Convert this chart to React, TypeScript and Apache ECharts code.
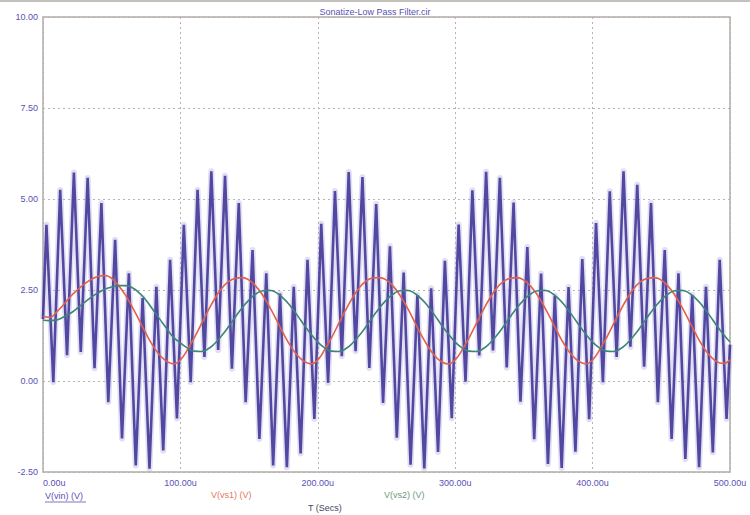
import React, { useEffect, useRef } from "react";
import * as echarts from "echarts";

// ---- data ----
const chartTitle = "Sonatize-Low Pass Filter.cir";
const xMin = 0;
const xMax = 500; // microseconds
const xStep = 100;
const yMin = -2.5;
const yMax = 10;
const yStep = 2.5;

// V(vs1) and V(vs2): samples every 5 us from 0 to 500 us
const sampleStepUs = 5;
const vs1Values = [
  1.77, 1.75, 1.90, 2.10, 2.32, 2.50, 2.66, 2.79, 2.87, 2.90, 2.82, 2.62, 2.36, 2.03, 1.67, 1.30, 0.97, 0.71, 0.54, 0.47,
  0.58, 0.85, 1.18, 1.55, 1.92, 2.26, 2.54, 2.73, 2.82, 2.84, 2.77, 2.60, 2.35, 2.03, 1.67, 1.30, 0.97, 0.71, 0.54, 0.47,
  0.58, 0.86, 1.19, 1.56, 1.93, 2.27, 2.55, 2.74, 2.83, 2.84, 2.77, 2.60, 2.34, 2.02, 1.66, 1.29, 0.96, 0.70, 0.53, 0.47,
  0.58, 0.85, 1.18, 1.55, 1.92, 2.26, 2.54, 2.73, 2.82, 2.84, 2.77, 2.60, 2.35, 2.03, 1.67, 1.30, 0.97, 0.71, 0.54, 0.47,
  0.58, 0.85, 1.18, 1.55, 1.92, 2.26, 2.54, 2.73, 2.82, 2.84, 2.77, 2.60, 2.35, 2.03, 1.67, 1.30, 0.97, 0.71, 0.54, 0.48,
  0.58,
];
const vs2Values = [
  1.67, 1.66, 1.68, 1.76, 1.86, 2.00, 2.15, 2.30, 2.42, 2.52, 2.58, 2.62, 2.62, 2.56, 2.42, 2.22, 1.96, 1.70, 1.44, 1.20,
  1.05, 0.91, 0.82, 0.81, 0.88, 1.03, 1.24, 1.49, 1.76, 2.01, 2.23, 2.39, 2.48, 2.49, 2.42, 2.27, 2.06, 1.81, 1.54, 1.29,
  1.07, 0.91, 0.82, 0.81, 0.88, 1.03, 1.24, 1.49, 1.76, 2.01, 2.23, 2.39, 2.48, 2.49, 2.42, 2.27, 2.06, 1.81, 1.54, 1.29,
  1.07, 0.91, 0.82, 0.81, 0.88, 1.03, 1.24, 1.49, 1.76, 2.01, 2.23, 2.39, 2.48, 2.49, 2.42, 2.27, 2.06, 1.81, 1.54, 1.29,
  1.07, 0.91, 0.82, 0.81, 0.88, 1.03, 1.24, 1.49, 1.76, 2.01, 2.23, 2.39, 2.48, 2.49, 2.42, 2.27, 2.06, 1.81, 1.54, 1.29,
  1.07,
];

// V(vin): fast oscillation, one top and one bottom every 10 us
const vinCycleUs = 10;
const vinStart = 1.7;
const vinEnd = 1.0;
const vinTops = [
  4.29, 5.25, 5.73, 5.58, 4.89, 3.88, 2.96, 2.28, 2.59, 3.33,
  4.29, 5.25, 5.76, 5.64, 4.89, 3.60, 2.96, 2.40, 2.59, 3.33,
  4.32, 5.22, 5.74, 5.60, 4.86, 3.70, 2.98, 2.36, 2.55, 3.30,
  4.30, 5.24, 5.75, 5.58, 4.90, 3.68, 2.95, 2.34, 2.58, 3.35,
  4.34, 5.21, 5.76, 5.39, 4.89, 3.60, 2.96, 2.36, 2.59, 3.33,
];
const vinBottoms = [
  -0.03, 0.71, 0.80, 0.35, -0.58, -1.58, -2.32, -2.41, -1.91, -1.03,
  -0.03, 0.66, 0.85, 0.34, -0.58, -1.59, -2.32, -2.37, -1.99, -1.04,
  -0.05, 0.68, 0.82, 0.36, -0.60, -1.56, -2.30, -2.40, -1.95, -1.02,
  -0.02, 0.70, 0.84, 0.37, -0.57, -1.60, -2.28, -2.39, -1.94, -1.05,
  -0.03, 0.66, 0.94, 0.39, -0.58, -1.59, -2.14, -2.37, -1.96, -1.04,
];

const legendNames = ["V(vin) (V)", "V(vs1) (V)", "V(vs2) (V)"];
const xAxisName = "T (Secs)";

const FONT = "Liberation Sans";
const LABEL_COLOR = "#5b50b4";

export default function App() {
  const ref = useRef<HTMLDivElement>(null);

  useEffect(() => {
    if (!ref.current) return;
    const chart = echarts.init(ref.current, null, { renderer: "svg" });

    const vs1Data = vs1Values.map((v, i) => [i * sampleStepUs, v]);
    const vs2Data = vs2Values.map((v, i) => [i * sampleStepUs, v]);
    const vinData: number[][] = [[0, vinStart]];
    vinTops.forEach((top, k) => {
      vinData.push([k * vinCycleUs + vinCycleUs * 0.25, top]);
      vinData.push([k * vinCycleUs + vinCycleUs * 0.75, vinBottoms[k]]);
    });
    vinData.push([xMax, vinEnd]);

    chart.setOption({
      animation: false,
      backgroundColor: "#ffffff",
      title: {
        text: chartTitle,
        left: "center",
        top: 2,
        textStyle: { fontFamily: FONT, fontSize: 9, fontWeight: "normal", color: LABEL_COLOR },
      },
      grid: {
        left: 43,
        right: 20,
        top: 17,
        bottom: 43,
        show: true,
        borderColor: "#b3aca6",
        borderWidth: 1.5,
      },
      xAxis: {
        type: "value",
        min: xMin,
        max: xMax,
        interval: xStep,
        axisLine: { show: false },
        axisTick: { show: false },
        splitLine: { show: true, lineStyle: { color: "#b8b3b0", type: [2, 3], width: 1 } },
        axisLabel: {
          fontFamily: FONT,
          fontSize: 9,
          color: LABEL_COLOR,
          margin: 6,
          alignMinLabel: "left",
          formatter: (v: number) => v.toFixed(2) + "u",
        },
      },
      yAxis: {
        type: "value",
        min: yMin,
        max: yMax,
        interval: yStep,
        axisLine: { show: false },
        axisTick: { show: false },
        splitLine: { show: true, lineStyle: { color: "#b8b3b0", type: [2, 3], width: 1 } },
        axisLabel: {
          fontFamily: FONT,
          fontSize: 9,
          color: LABEL_COLOR,
          margin: 5,
          formatter: (v: number) => v.toFixed(2),
        },
      },
      series: [
        {
          name: legendNames[0] + " halo",
          type: "line",
          data: vinData,
          showSymbol: false,
          silent: true,
          lineStyle: { color: "#aaa3dc", width: 6, opacity: 0.35, join: "round" },
          z: 1,
        },
        {
          name: legendNames[0],
          type: "line",
          data: vinData,
          showSymbol: false,
          lineStyle: { color: "#392e92", width: 2.6, opacity: 0.85 },
          z: 2,
        },
        {
          name: legendNames[1],
          type: "line",
          data: vs1Data,
          showSymbol: false,
          smooth: true,
          lineStyle: { color: "#e2604c", width: 1.6 },
          z: 3,
        },
        {
          name: legendNames[2],
          type: "line",
          data: vs2Data,
          showSymbol: false,
          smooth: true,
          lineStyle: { color: "#3d8578", width: 1.6 },
          z: 3,
        },
      ],
      graphic: [
        { type: "rect", left: 0, top: 0, shape: { width: 750, height: 2 }, style: { fill: "#c4c0bc" } },
        {
          type: "text",
          left: 45,
          top: 491,
          style: { text: legendNames[0], font: `9px "${FONT}"`, fill: LABEL_COLOR },
        },
        {
          type: "line",
          shape: { x1: 45, y1: 502, x2: 86, y2: 502 },
          style: { stroke: LABEL_COLOR, lineWidth: 0.8 },
        },
        {
          type: "text",
          left: 211,
          top: 490,
          style: { text: legendNames[1], font: `9px "${FONT}"`, fill: "#e07a5c" },
        },
        {
          type: "text",
          left: 384,
          top: 490,
          style: { text: legendNames[2], font: `9px "${FONT}"`, fill: "#6f9a7c" },
        },
        {
          type: "text",
          left: 308,
          top: 503,
          style: { text: xAxisName, font: `9px "${FONT}"`, fill: "#444466" },
        },
      ],
    });

    return () => chart.dispose();
  }, []);

  return (
    <div
      ref={ref}
      style={{ position: "absolute", left: 0, top: 0, width: 750, height: 515 }}
    />
  );
}
